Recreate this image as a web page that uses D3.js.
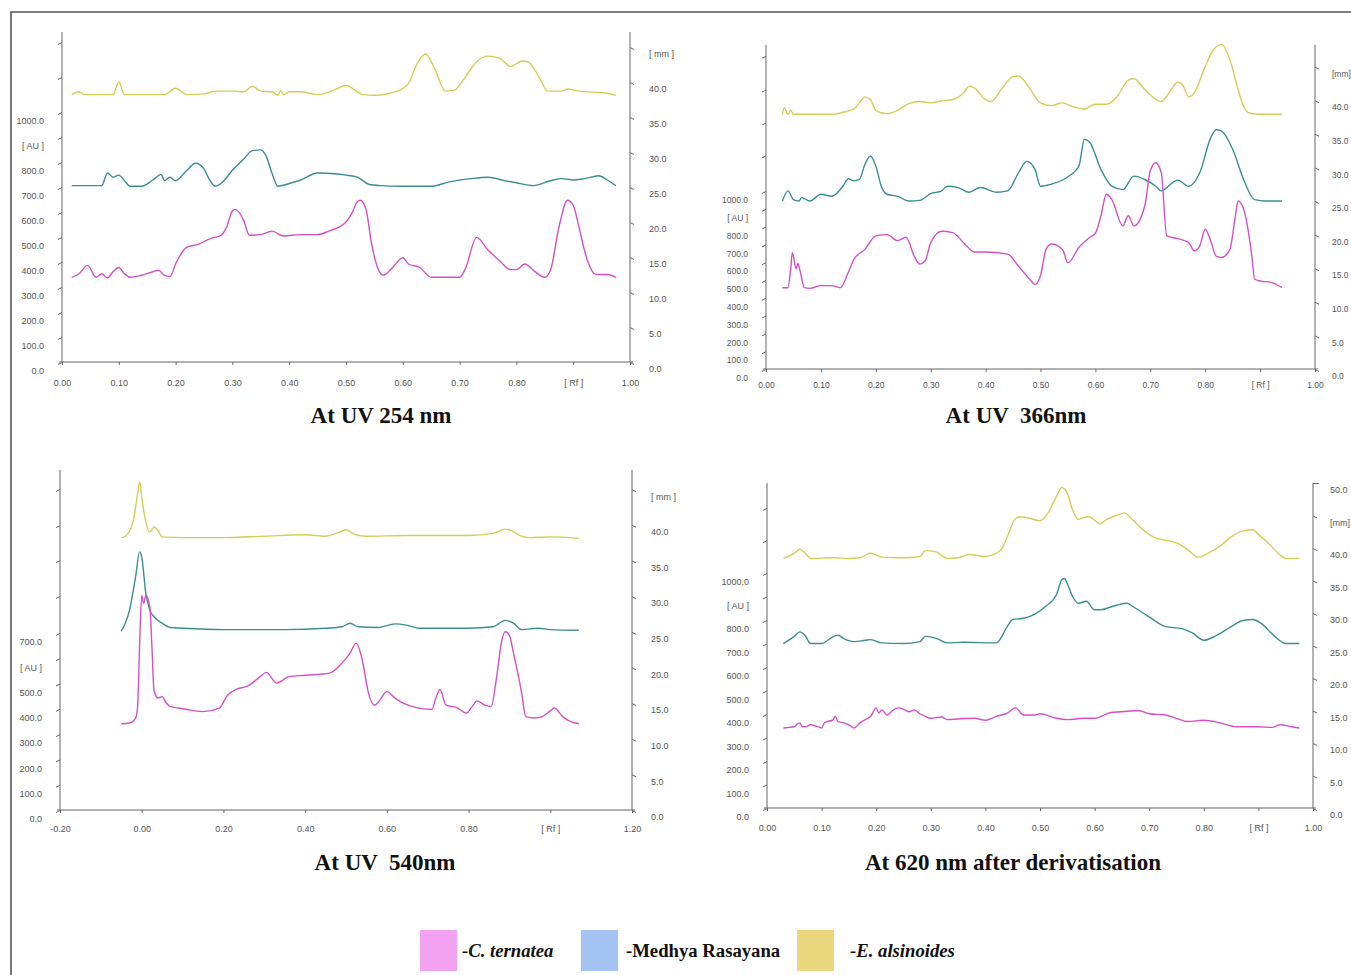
<!DOCTYPE html>
<html>
<head>
<meta charset="utf-8">
<title>HPTLC densitograms</title>
<script src="https://d3js.org/d3.v7.min.js"></script>
<style>
  body { margin: 0; background: #fff; }
  .axis text { font-family: "Liberation Sans Narrow", "Liberation Sans", Arial, sans-serif; fill: #555; }
  .axis line, .axis path { stroke: #666; }
  .title { font-family: "Liberation Serif", "Times New Roman", serif; font-weight: bold; font-size: 23px; fill: #111; }
  .legend { font-family: "Liberation Serif", "Times New Roman", serif; font-weight: bold; font-size: 18.7px; fill: #111; }
</style>
</head>
<body>
<script>
const width = 1351, height = 975

// series: C. ternatea, Medhya Rasayana, E. alsinoides
const seriesNames = ['-C. ternatea', '-Medhya Rasayana', '-E. alsinoides']
const seriesItalic = [true, false, true]
const lineColors = ['#d64fc9', '#3a8f8f', '#d3cf55']
const swatchColors = ['#f2a2f0', '#a3c3f2', '#ebd77d']

const titles = ['At UV 254 nm', 'At UV  366nm', 'At UV  540nm', 'At 620 nm after derivatisation']

// tick values
const rfTicks = [0, 0.1, 0.2, 0.3, 0.4, 0.5, 0.6, 0.7, 0.8, 0.9, 1.0]
const rfTicksWide = [-0.2, 0, 0.2, 0.4, 0.6, 0.8, 1.0, 1.2]
const auTicks1000 = [0, 100, 200, 300, 400, 500, 600, 700, 800, 900, 1000]
const auTicks700 = [0, 100, 200, 300, 400, 500, 600, 700]
const mmTicks45 = [0, 5, 10, 15, 20, 25, 30, 35, 40, 45]
const mmTicks50 = [0, 5, 10, 15, 20, 25, 30, 35, 40, 45, 50]

// [Rf, mm]
const uv254_alsinoides = [[0.017,38.2],[0.03,38.6],[0.04,38.2],[0.09,38.2],[0.10,40.0],[0.11,38.2],[0.18,38.2],[0.20,39.1],[0.22,38.2],[0.25,38.3],[0.27,38.7],[0.30,38.7],[0.32,38.6],[0.335,39.4],[0.35,38.7],[0.37,38.6],[0.38,38.1],[0.385,38.8],[0.39,38.2],[0.40,38.6],[0.42,38.6],[0.45,38.2],[0.48,38.9],[0.50,39.5],[0.53,38.2],[0.55,38.1],[0.59,38.7],[0.61,39.8],[0.625,42.6],[0.64,44.0],[0.655,42.1],[0.675,38.7],[0.69,38.8],[0.71,40.7],[0.73,42.9],[0.75,43.7],[0.77,43.4],[0.79,42.2],[0.81,43.0],[0.82,42.9],[0.84,40.7],[0.855,38.7],[0.88,38.7],[0.89,39.0],[0.91,38.7],[0.96,38.4],[0.975,38.1]]
const uv254_medhya = [[0.017,25.2],[0.07,25.2],[0.08,27.0],[0.09,26.4],[0.10,26.7],[0.11,25.9],[0.12,25.1],[0.14,25.1],[0.16,26.0],[0.175,26.8],[0.18,25.9],[0.19,26.4],[0.20,25.9],[0.22,27.4],[0.235,28.4],[0.25,27.6],[0.26,26.0],[0.27,25.1],[0.28,25.5],[0.30,27.4],[0.32,29.0],[0.335,30.2],[0.35,30.3],[0.36,29.3],[0.37,26.9],[0.38,25.1],[0.40,25.5],[0.42,26.0],[0.45,27.0],[0.48,26.9],[0.50,26.7],[0.52,26.4],[0.54,25.4],[0.56,25.2],[0.60,25.1],[0.65,25.1],[0.68,25.7],[0.72,26.2],[0.75,26.4],[0.78,25.9],[0.80,25.6],[0.83,25.2],[0.86,25.9],[0.88,26.2],[0.90,26.0],[0.92,26.2],[0.945,26.6],[0.96,26.0],[0.975,25.2]]
const uv254_ternatea = [[0.017,12.1],[0.03,12.6],[0.045,13.8],[0.06,12.1],[0.07,12.6],[0.08,12.0],[0.09,12.9],[0.10,13.5],[0.11,12.6],[0.12,12.1],[0.14,12.4],[0.16,12.9],[0.17,13.1],[0.18,12.4],[0.19,12.2],[0.20,14.0],[0.21,15.5],[0.22,16.4],[0.24,16.8],[0.26,17.6],[0.28,18.1],[0.29,19.3],[0.30,21.6],[0.305,21.8],[0.32,20.2],[0.33,18.1],[0.35,18.2],[0.37,18.7],[0.39,18.0],[0.42,18.2],[0.45,18.2],[0.47,18.7],[0.50,20.0],[0.51,21.2],[0.52,22.9],[0.525,23.1],[0.535,21.9],[0.545,16.9],[0.555,13.6],[0.565,12.4],[0.58,13.3],[0.60,14.9],[0.61,14.0],[0.63,13.5],[0.65,12.1],[0.70,12.1],[0.71,13.3],[0.73,17.8],[0.75,16.0],[0.77,14.5],[0.79,13.2],[0.80,13.2],[0.815,14.0],[0.83,13.1],[0.85,12.1],[0.86,13.1],[0.875,19.3],[0.89,23.1],[0.90,22.4],[0.91,19.3],[0.925,14.5],[0.94,12.5],[0.96,12.5],[0.975,12.1]]

const uv366_alsinoides = [[0.03,37.9],[0.033,38.9],[0.04,37.9],[0.045,38.5],[0.05,37.9],[0.12,37.9],[0.14,38.2],[0.16,38.7],[0.17,39.6],[0.18,40.5],[0.19,40.1],[0.20,38.5],[0.22,38.0],[0.24,38.5],[0.26,39.5],[0.28,39.8],[0.30,39.6],[0.32,39.9],[0.34,40.1],[0.36,41.1],[0.37,42.1],[0.38,41.8],[0.40,40.1],[0.41,39.8],[0.43,41.8],[0.45,43.5],[0.46,43.6],[0.48,41.8],[0.50,39.6],[0.52,39.2],[0.54,39.6],[0.56,39.0],[0.58,38.7],[0.60,39.4],[0.62,39.4],[0.64,40.6],[0.66,43.0],[0.67,43.2],[0.69,41.6],[0.72,39.8],[0.74,41.8],[0.75,42.7],[0.76,42.1],[0.77,40.5],[0.78,41.1],[0.80,45.0],[0.815,47.5],[0.83,48.3],[0.845,46.0],[0.86,41.6],[0.87,39.1],[0.88,38.1],[0.90,37.9],[0.94,37.9]]
const uv366_medhya = [[0.03,25.0],[0.04,26.5],[0.05,25.2],[0.06,25.0],[0.065,25.5],[0.08,25.0],[0.10,26.0],[0.12,25.7],[0.14,27.2],[0.15,28.3],[0.16,28.0],[0.17,28.2],[0.18,30.4],[0.19,31.7],[0.20,30.2],[0.21,27.2],[0.22,26.0],[0.24,25.7],[0.26,25.0],[0.28,25.1],[0.30,26.1],[0.32,26.5],[0.33,27.2],[0.35,27.0],[0.37,26.3],[0.39,27.0],[0.42,26.3],[0.44,26.5],[0.46,29.2],[0.475,30.9],[0.49,29.7],[0.50,27.2],[0.52,27.5],[0.55,28.6],[0.57,30.2],[0.58,34.2],[0.59,33.7],[0.61,29.7],[0.63,27.2],[0.65,26.7],[0.67,28.7],[0.69,28.2],[0.71,27.2],[0.72,26.5],[0.74,27.7],[0.75,28.1],[0.77,27.2],[0.79,29.2],[0.81,34.4],[0.82,35.6],[0.83,35.4],[0.85,32.7],[0.87,28.2],[0.89,25.2],[0.91,25.0],[0.94,25.0]]
const uv366_ternatea = [[0.03,12.1],[0.04,12.1],[0.045,14.9],[0.048,17.3],[0.055,14.9],[0.058,15.7],[0.062,14.6],[0.07,12.1],[0.08,12.0],[0.10,12.4],[0.12,12.4],[0.135,12.1],[0.15,14.4],[0.16,16.3],[0.18,17.8],[0.20,19.8],[0.22,20.0],[0.24,19.1],[0.255,19.6],[0.27,16.8],[0.28,15.6],[0.29,16.1],[0.30,18.8],[0.32,20.5],[0.34,20.3],[0.36,18.8],[0.38,17.4],[0.40,17.4],[0.44,17.1],[0.46,15.3],[0.48,13.4],[0.49,12.6],[0.50,13.9],[0.51,17.8],[0.52,18.6],[0.54,17.8],[0.55,15.8],[0.57,18.1],[0.59,19.6],[0.60,20.2],[0.61,22.8],[0.62,26.0],[0.63,25.2],[0.65,21.3],[0.66,22.8],[0.67,21.3],[0.69,24.3],[0.70,29.5],[0.71,30.7],[0.72,29.2],[0.73,19.8],[0.75,19.4],[0.77,18.8],[0.78,17.6],[0.79,18.3],[0.80,20.8],[0.81,19.1],[0.82,16.8],[0.83,16.6],[0.845,17.8],[0.855,22.8],[0.86,25.0],[0.87,23.8],[0.885,16.8],[0.89,13.4],[0.90,13.1],[0.92,12.9],[0.94,12.1]]

const uv540_alsinoides = [[-0.05,38.2],[-0.04,38.4],[-0.02,40.7],[-0.01,44.4],[-0.005,46.0],[0.0,43.9],[0.01,40.4],[0.02,39.0],[0.03,39.7],[0.04,39.2],[0.05,38.3],[0.10,38.2],[0.20,38.2],[0.30,38.4],[0.40,38.6],[0.45,38.4],[0.48,38.9],[0.50,39.3],[0.52,38.7],[0.55,38.4],[0.65,38.5],[0.80,38.5],[0.86,38.8],[0.89,39.4],[0.90,39.3],[0.93,38.4],[0.95,38.2],[1.00,38.3],[1.07,38.1]]
const uv540_medhya = [[-0.05,25.1],[-0.03,28.0],[-0.015,32.7],[-0.005,36.2],[0.0,35.5],[0.01,30.4],[0.02,28.0],[0.03,27.1],[0.05,26.2],[0.07,25.6],[0.10,25.5],[0.20,25.3],[0.35,25.3],[0.45,25.5],[0.49,25.7],[0.51,26.2],[0.53,25.7],[0.58,25.6],[0.62,26.1],[0.65,25.9],[0.68,25.5],[0.80,25.5],[0.86,25.7],[0.89,26.6],[0.91,26.2],[0.93,25.3],[0.97,25.5],[1.00,25.3],[1.07,25.2]]
const uv540_ternatea = [[-0.05,12.1],[-0.03,12.2],[-0.015,12.9],[-0.01,14.5],[-0.005,23.4],[0.0,30.1],[0.005,29.0],[0.01,30.1],[0.02,28.5],[0.025,22.9],[0.03,16.8],[0.04,15.7],[0.05,15.9],[0.06,15.0],[0.07,14.5],[0.09,14.3],[0.12,14.0],[0.15,13.8],[0.19,14.3],[0.21,16.1],[0.23,16.9],[0.26,17.4],[0.29,18.7],[0.305,19.3],[0.33,17.8],[0.36,18.7],[0.40,18.9],[0.46,19.2],[0.49,20.6],[0.51,22.0],[0.525,23.4],[0.54,21.0],[0.555,16.4],[0.57,14.7],[0.58,15.2],[0.60,16.6],[0.62,15.7],[0.64,15.0],[0.67,14.4],[0.71,14.1],[0.72,15.7],[0.73,16.9],[0.745,14.7],[0.77,14.4],[0.795,13.6],[0.81,14.6],[0.82,15.3],[0.84,14.7],[0.855,14.5],[0.87,19.2],[0.88,23.4],[0.89,25.0],[0.90,24.5],[0.91,22.0],[0.93,16.4],[0.94,13.1],[0.96,12.9],[0.98,13.1],[1.00,13.9],[1.01,14.3],[1.03,13.1],[1.05,12.4],[1.07,12.1]]

const nm620_alsinoides = [[0.03,38.4],[0.05,39.2],[0.06,39.8],[0.07,39.2],[0.08,38.4],[0.12,38.5],[0.15,38.4],[0.17,38.5],[0.19,39.2],[0.21,38.6],[0.25,38.5],[0.28,38.7],[0.29,39.6],[0.31,39.4],[0.33,38.4],[0.35,38.5],[0.37,39.0],[0.40,38.7],[0.42,39.2],[0.43,39.9],[0.44,41.7],[0.455,44.5],[0.465,44.8],[0.475,44.7],[0.50,44.2],[0.51,44.8],[0.53,47.9],[0.54,49.3],[0.55,48.4],[0.56,45.8],[0.57,44.4],[0.58,44.7],[0.59,44.8],[0.60,44.3],[0.61,43.7],[0.62,44.3],[0.64,45.0],[0.655,45.4],[0.67,44.3],[0.69,42.7],[0.71,41.6],[0.73,41.2],[0.75,40.8],[0.77,39.8],[0.79,38.6],[0.81,39.3],[0.83,40.3],[0.85,41.7],[0.87,42.6],[0.89,42.8],[0.90,42.1],[0.92,40.6],[0.94,38.9],[0.95,38.4],[0.975,38.4]]
const nm620_medhya = [[0.03,25.3],[0.05,26.4],[0.06,27.1],[0.07,26.5],[0.08,25.3],[0.10,25.3],[0.12,26.3],[0.13,26.6],[0.14,26.1],[0.16,25.6],[0.18,25.8],[0.19,25.9],[0.21,25.4],[0.25,25.3],[0.28,25.6],[0.29,26.4],[0.31,26.1],[0.33,25.4],[0.36,25.5],[0.42,25.4],[0.44,27.9],[0.45,29.0],[0.47,29.2],[0.49,29.8],[0.51,31.0],[0.53,32.8],[0.54,35.1],[0.545,35.3],[0.55,34.5],[0.56,32.5],[0.57,31.5],[0.585,31.8],[0.60,30.5],[0.61,30.5],[0.64,31.2],[0.66,31.5],[0.67,31.0],[0.70,29.4],[0.73,27.9],[0.76,27.6],[0.78,26.9],[0.80,25.8],[0.82,26.4],[0.85,27.9],[0.87,28.8],[0.89,29.0],[0.905,28.4],[0.93,26.4],[0.95,25.3],[0.975,25.3]]
const nm620_ternatea = [[0.03,12.3],[0.04,12.4],[0.05,12.5],[0.055,12.9],[0.06,13.1],[0.065,12.5],[0.07,12.5],[0.08,12.8],[0.09,12.6],[0.10,12.3],[0.105,13.1],[0.11,13.3],[0.12,13.5],[0.125,14.1],[0.13,13.3],[0.14,13.1],[0.15,12.8],[0.16,12.3],[0.17,13.1],[0.18,13.6],[0.19,14.1],[0.20,15.4],[0.205,14.6],[0.21,15.1],[0.22,14.3],[0.23,15.0],[0.24,15.4],[0.25,15.2],[0.26,14.8],[0.27,15.1],[0.28,14.5],[0.29,14.1],[0.30,13.8],[0.32,14.0],[0.33,13.6],[0.35,13.7],[0.38,13.8],[0.40,13.5],[0.42,14.1],[0.44,14.6],[0.455,15.4],[0.47,14.3],[0.49,14.3],[0.50,14.5],[0.53,13.8],[0.55,13.6],[0.58,13.8],[0.60,13.8],[0.63,14.7],[0.65,14.8],[0.68,15.0],[0.70,14.5],[0.73,14.3],[0.75,13.8],[0.77,13.3],[0.80,13.5],[0.83,13.1],[0.86,12.5],[0.90,12.5],[0.925,12.4],[0.94,12.8],[0.96,12.5],[0.975,12.3]]

const panels = [
  { title: titles[0], titleX: 381, titleY: 423, x0: 62, x1: 630, bottom: 362, top: 32,
    xDomain: [0, 1], xTicks: rfTicks, rfSlot: 0.9, xLabelDy: 21,
    auPx: 0.25, auTicks: auTicks1000, auSlot: 900, auExtra: [1140, 1280],
    mmPx: 7.0, mmTicks: mmTicks45, mmPad: 14, mmLabel: '[ mm ]', font: 9,
    series: [uv254_ternatea, uv254_medhya, uv254_alsinoides] },
  { title: titles[1], titleX: 1016, titleY: 423, x0: 766, x1: 1315, bottom: 369, top: 45,
    xDomain: [0, 1], xTicks: rfTicks, rfSlot: 0.9, xLabelDy: 16,
    auPx: 0.178, auTicks: auTicks1000, auSlot: 900, auExtra: [1200, 1385, 1570, 1760],
    mmPx: 6.72, mmTicks: mmTicks45, mmPad: 12, mmLabel: '[mm]', font: 8.5,
    series: [uv366_ternatea, uv366_medhya, uv366_alsinoides] },
  { title: titles[2], titleX: 385, titleY: 870, x0: 60, x1: 632, bottom: 810, top: 470,
    xDomain: [-0.2, 1.2], xTicks: rfTicksWide, rfSlot: 1.0, xLabelDy: 19,
    auPx: 0.253, auTicks: auTicks700, auSlot: 600, auExtra: [846, 988, 1126, 1269],
    mmPx: 7.13, mmTicks: mmTicks45, mmPad: 14, mmLabel: '[ mm ]', font: 9,
    series: [uv540_ternatea, uv540_medhya, uv540_alsinoides] },
  { title: titles[3], titleX: 1013, titleY: 870, x0: 767, x1: 1313, bottom: 808, top: 483,
    xDomain: [0, 1], xTicks: rfTicks, rfSlot: 0.9, xLabelDy: 20,
    auPx: 0.235, auTicks: auTicks1000, auSlot: 900, auExtra: [1140, 1277],
    mmPx: 6.5, mmTicks: mmTicks50, mmPad: 12, mmLabel: '[mm]', font: 9,
    series: [nm620_ternatea, nm620_medhya, nm620_alsinoides] }
]

const svg = d3.select('body').append('svg')
  .attr('width', width)
  .attr('height', height)

// frame (left + top edges only are visible)
svg.append('path')
  .attr('d', 'M11,975V12H1351')
  .attr('fill', 'none')
  .attr('stroke', '#555')
  .attr('stroke-width', 1.6)

panels.forEach(p => {
  const g = svg.append('g')

  const x = d3.scaleLinear().domain(p.xDomain).range([p.x0, p.x1])
  const yAU = d3.scaleLinear().domain([0, 1000]).range([p.bottom, p.bottom - 1000 * p.auPx])
  const yMM = d3.scaleLinear().domain([0, 50]).range([p.bottom, p.bottom - 50 * p.mmPx])

  // axis lines
  g.append('line').attr('x1', p.x0).attr('x2', p.x0).attr('y1', p.bottom).attr('y2', p.top)
    .attr('stroke', '#666')
  g.append('line').attr('x1', p.x1).attr('x2', p.x1).attr('y1', p.bottom).attr('y2', p.top)
    .attr('stroke', '#666')
  g.append('line').attr('x1', p.x0 - 3).attr('x2', p.x1 + 3).attr('y1', p.bottom).attr('y2', p.bottom)
    .attr('stroke', '#666')

  const fmt = (v, d) => v.toFixed(d)

  // bottom Rf axis
  const ax = g.append('g').attr('class', 'axis')
    .attr('transform', `translate(0,${p.bottom})`)
    .call(d3.axisBottom(x).tickValues(p.xTicks).tickSize(3).tickSizeOuter(0)
      .tickFormat(v => Math.abs(v - p.rfSlot) < 1e-9 ? '[ Rf ]' : fmt(v, 2)))
  ax.select('.domain').remove()
  ax.selectAll('text').attr('y', p.xLabelDy).attr('dy', '0.35em').style('font-size', p.font + 'px')

  // left AU axis
  const al = g.append('g').attr('class', 'axis')
    .attr('transform', `translate(${p.x0},0)`)
    .call(d3.axisLeft(yAU).tickValues(p.auTicks.concat(p.auExtra)).tickSize(5).tickSizeOuter(0)
      .tickPadding(13)
      .tickFormat(v => p.auExtra.includes(v) ? '' : v === p.auSlot ? '[ AU ]' : fmt(v, 1)))
  al.select('.domain').remove()
  al.selectAll('.tick line').attr('x2', -4).attr('y2', 2)
  al.selectAll('text').attr('y', 9).style('font-size', p.font + 'px')

  // right mm axis
  const ar = g.append('g').attr('class', 'axis')
    .attr('transform', `translate(${p.x1},0)`)
    .call(d3.axisRight(yMM).tickValues(p.mmTicks).tickSize(5).tickSizeOuter(0)
      .tickPadding(p.mmPad)
      .tickFormat(v => v === 45 ? p.mmLabel : fmt(v, 1)))
  ar.select('.domain').remove()
  ar.selectAll('.tick line').attr('x2', 4).attr('y2', 2)
  ar.selectAll('text').attr('y', 7).style('font-size', p.font + 'px')
  if (p.mmTicks.includes(50)) {
    ar.selectAll('.tick').filter(v => v === 50).select('line').attr('x2', 6).attr('y2', 0)
  }

  // traces, drawn back to front: E. alsinoides, Medhya, C. ternatea
  const line = d3.line()
    .x(d => x(d[0]))
    .y(d => yMM(d[1]))
    .curve(d3.curveMonotoneX)

  ;[2, 1, 0].forEach(i => {
    g.append('path')
      .datum(p.series[i])
      .attr('d', line)
      .attr('fill', 'none')
      .attr('stroke', lineColors[i])
      .attr('stroke-width', 1.4)
      .attr('stroke-linejoin', 'round')
  })

  g.append('text')
    .attr('class', 'title')
    .attr('x', p.titleX)
    .attr('y', p.titleY)
    .attr('text-anchor', 'middle')
    .attr('xml:space', 'preserve')
    .style('white-space', 'pre')
    .text(p.title)
})

// legend
const legendX = [420, 581, 797]
const legendTextX = [462, 626, 850]
const legend = svg.append('g')
seriesNames.forEach((name, i) => {
  legend.append('rect')
    .attr('x', legendX[i])
    .attr('y', 930)
    .attr('width', 37)
    .attr('height', 41)
    .attr('fill', swatchColors[i])
  legend.append('text')
    .attr('class', 'legend')
    .attr('x', legendTextX[i])
    .attr('y', 957)
    .style('font-style', seriesItalic[i] ? 'italic' : 'normal')
    .text(name)
})
</script>
</body>
</html>
